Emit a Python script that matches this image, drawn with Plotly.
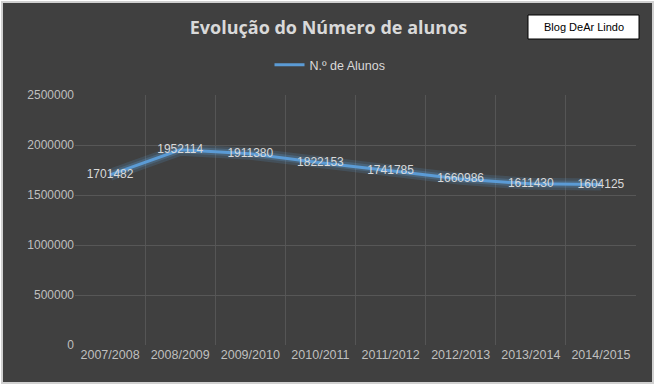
import plotly.graph_objects as go

anos = ["2007/2008", "2008/2009", "2009/2010", "2010/2011",
        "2011/2012", "2012/2013", "2013/2014", "2014/2015"]
alunos = [1701482, 1952114, 1911380, 1822153, 1741785, 1660986, 1611430, 1604125]
serie_nome = "N.º de Alunos"
titulo = "Evolução do Número de alunos"
y_ticks = [0, 500000, 1000000, 1500000, 2000000, 2500000]

W, H = 657, 387
ml, mr, mt, mb = 75, 21, 95, 42
pw, ph = W - ml - mr, H - mt - mb

def px_x(p):
    return (p - ml) / pw

def px_y(p):
    return (H - mb - p) / ph

fig = go.Figure()
# glow
fig.add_trace(go.Scatter(x=anos, y=alunos, mode="lines",
                         line=dict(color="rgba(91,155,213,0.18)", width=12),
                         hoverinfo="skip", showlegend=False))
fig.add_trace(go.Scatter(x=anos, y=alunos, mode="lines",
                         line=dict(color="rgba(91,155,213,0.25)", width=7),
                         hoverinfo="skip", showlegend=False))
fig.add_trace(go.Scatter(x=anos, y=alunos, mode="lines+text", name=serie_nome,
                         line=dict(color="#5b9bd5", width=3),
                         text=[str(v) for v in alunos], textposition="middle center",
                         textfont=dict(family="Liberation Sans", size=12, color="#d9d9d9")))

fig.update_layout(
    width=W, height=H,
    margin=dict(l=ml, r=mr, t=mt, b=mb),
    paper_bgcolor="white",
    plot_bgcolor="rgba(0,0,0,0)",
    font=dict(family="Liberation Sans", color="#bfbfbf", size=12),
    title=dict(text="<b>" + titulo + "</b>", x=0.5, xanchor="center",
               y=1 - 28 / H, yanchor="middle",
               font=dict(family="Open Sans", size=18, color="#d9d9d9")),
    showlegend=True,
    legend=dict(orientation="h", x=px_x(330), xanchor="center", y=px_y(65), yanchor="middle",
                font=dict(family="Liberation Sans", size=12.5, color="#d9d9d9"),
                bgcolor="rgba(0,0,0,0)", itemwidth=30),
    xaxis=dict(type="category", tickson="boundaries", showgrid=True, gridcolor="#555555",
               gridwidth=1, showline=False, zeroline=False, ticks="",
               tickfont=dict(family="Liberation Sans", size=12.5, color="#bfbfbf"),
               range=[-0.5, len(anos) - 0.5]),
    yaxis=dict(range=[0, 2500000], tickvals=y_ticks, tickformat="d", showgrid=True,
               gridcolor="#575757", gridwidth=1, zeroline=False, showline=False, ticks="",
               ticklen=0, tickfont=dict(family="Liberation Sans", size=12, color="#bfbfbf")),
    shapes=[
        dict(type="rect", xref="paper", yref="paper", layer="below",
             x0=px_x(2), x1=px_x(653), y0=px_y(383), y1=px_y(2),
             fillcolor="#404040", line=dict(color="#d0d0d0", width=2)),
        dict(type="rect", xref="paper", yref="paper", layer="above",
             x0=px_x(528), x1=px_x(639), y0=px_y(39), y1=px_y(15),
             fillcolor="white", line=dict(color="black", width=1)),
    ],
    annotations=[
        dict(text="Blog DeAr Lindo", xref="paper", yref="paper",
             x=px_x(583.5), y=px_y(27), xanchor="center", yanchor="middle",
             showarrow=False, font=dict(family="Liberation Sans", size=11, color="black")),
    ],
)

fig.write_html("out.html", config={"displayModeBar": False},
               post_script="document.body.style.margin='0';")
